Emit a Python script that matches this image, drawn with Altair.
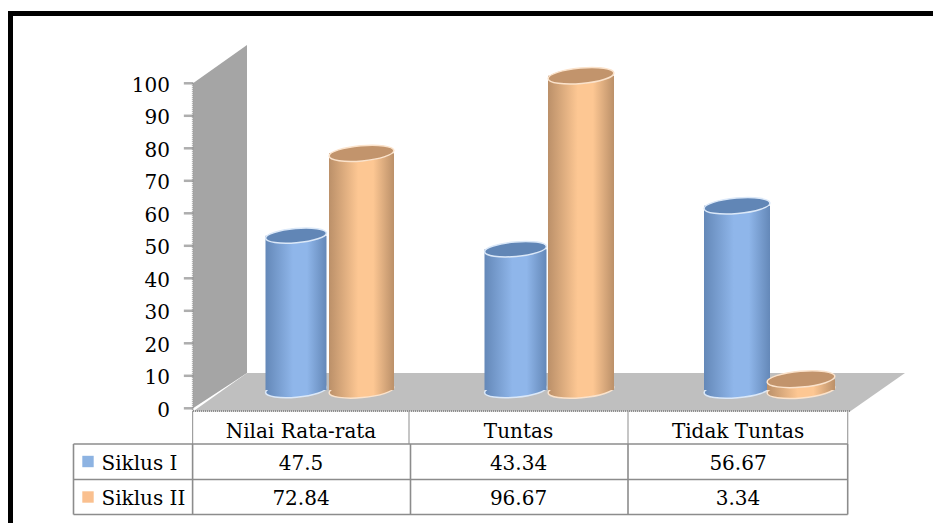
import altair as alt
import pandas as pd

# ---- data ----
categories = ["Nilai Rata-rata", "Tuntas", "Tidak Tuntas"]
series_names = ["Siklus I", "Siklus II"]
siklus_1 = [47.5, 43.34, 56.67]
siklus_2 = [72.84, 96.67, 3.34]
y_ticks = [0, 10, 20, 30, 40, 50, 60, 70, 80, 90, 100]

# ---- layout (page pixels -> scale units) ----
W, H = 925, 515
FONT = "DejaVu Serif"
FS = 20


def X(px):
    return (px - 192.6) / 218.4


def V(py):
    return (408.3 - py) / 3.25


x_scale = alt.Scale(domain=[X(8), X(8 + W)], nice=False, zero=False)
y_scale = alt.Scale(domain=[V(8 + H), V(8)], nice=False, zero=False)


def ex(f="x", **k):
    return alt.X(f"{f}:Q", scale=x_scale, axis=None, **k)


def ey(f="y", **k):
    return alt.Y(f"{f}:Q", scale=y_scale, axis=None, **k)


def frame(**cols):
    return pd.DataFrame(cols)


layers = []

# black frame
bands = frame(x=[X(8), X(8)], x2=[X(13), X(8 + W)], y=[V(11), V(11)], y2=[V(8 + H), V(16)])
layers.append(
    alt.Chart(bands).mark_rect(fill="#000000").encode(
        x=ex(), x2="x2:Q", y=ey(), y2="y2:Q"
    )
)

# side wall
wall = frame(x=[X(193), X(247)], y=[V(408.3), V(373)], y2=[V(83.3), V(45)])
layers.append(
    alt.Chart(wall).mark_area(fill="#a5a5a5", interpolate="linear").encode(
        x=ex(), y=ey(), y2="y2:Q"
    )
)

# floor
floor = frame(y=[V(411.5), V(373)], x=[X(193), X(247)], x2=[X(850), X(905)])
layers.append(
    alt.Chart(floor).mark_area(fill="#bfbfbf", orient="horizontal", interpolate="linear").encode(
        y=ey(), x=ex(), x2="x2:Q"
    )
)

# dotted edges of floor and wall
edge_h = frame(x=[X(193)], x2=[X(850)], y=[V(411)])
layers.append(
    alt.Chart(edge_h).mark_rule(stroke="#8f8f8f", strokeWidth=2, strokeDash=[1, 1]).encode(
        x=ex(), x2="x2:Q", y=ey()
    )
)
edge_v = frame(x=[X(192.6)], y=[V(83.3)], y2=[V(411)])
layers.append(
    alt.Chart(edge_v).mark_rule(stroke="#9a9a9a", strokeWidth=1.5, strokeDash=[1, 1]).encode(
        x=ex(), y=ey(), y2="y2:Q"
    )
)

# value axis: ticks and labels on the shared scales
axis_df = frame(
    y=[float(t) for t in y_ticks],
    x=[X(192.6)] * len(y_ticks),
    lx=[X(170)] * len(y_ticks),
    label=[str(t) for t in y_ticks],
)
layers.append(
    alt.Chart(axis_df).mark_tick(
        stroke="#8c8c8c", strokeWidth=1.5, size=8, orient="horizontal", xOffset=-4
    ).encode(x=ex(), y=ey())
)
layers.append(
    alt.Chart(axis_df).mark_text(
        font=FONT, fontSize=FS, align="right", baseline="middle", dy=2.5, color="#000000"
    ).encode(x=ex("lx"), y=ey(), text="label:N")
)

# cylinders
BASE = V(390)
CENTERS = {
    "Siklus I": [296, 515.5, 737],
    "Siklus II": [361.5, 581, 801],
}
RX = {
    "Siklus I": [30.5, 31, 33],
    "Siklus II": [32.5, 33, 34],
}
STYLE = {
    "Siklus I": dict(edge="#6488b8", mid="#8fb6ea", top="#6186b6", rim="#dbe8f8"),
    "Siklus II": dict(edge="#bb9069", mid="#fdc793", top="#c2946c", rim="#fbe3cc"),
}
ELLIPSE = "M-1,0 A1,0.235 0 1 0 1,0 A1,0.235 0 1 0 -1,0 Z"

for name, values in zip(series_names, [siklus_1, siklus_2]):
    st = STYLE[name]
    grad = {
        "gradient": "linear", "x1": 0, "x2": 1, "y1": 0, "y2": 0,
        "stops": [
            {"offset": 0, "color": st["edge"]},
            {"offset": 0.45, "color": st["mid"]},
            {"offset": 0.68, "color": st["mid"]},
            {"offset": 1, "color": st["edge"]},
        ],
    }
    d = frame(
        cx=[X(c) for c in CENTERS[name]],
        x=[X(c - r) for c, r in zip(CENTERS[name], RX[name])],
        x2=[X(c + r) for c, r in zip(CENTERS[name], RX[name])],
        base=[BASE] * 3,
        top=[BASE + v for v in values],
        s=[(2 * r) ** 2 for r in RX[name]],
    )
    layers.append(
        alt.Chart(d).mark_point(
            shape=ELLIPSE, filled=True, fill=grad, fillOpacity=1,
            stroke=st["rim"], strokeWidth=1.5, strokeOpacity=1, angle=355,
        ).encode(x=ex("cx"), y=ey("base"), size=alt.Size("s:Q", scale=None, legend=None))
    )
    layers.append(
        alt.Chart(d).mark_rect(fill=grad).encode(
            x=ex(), x2="x2:Q", y=ey("base"), y2="top:Q"
        )
    )
    layers.append(
        alt.Chart(d).mark_point(
            shape=ELLIPSE, filled=True, fill=st["top"], fillOpacity=1,
            stroke=st["rim"], strokeWidth=1.5, strokeOpacity=1, angle=355,
        ).encode(x=ex("cx"), y=ey("top"), size=alt.Size("s:Q", scale=None, legend=None))
    )

# data table: lines
GRID = "#8c8c8c"
thin = frame(x=[X(192.6), X(409), X(628), X(847.7)], y=[V(411)] * 4, y2=[V(444)] * 4)
layers.append(
    alt.Chart(thin).mark_rule(stroke="#a0a0a0", strokeWidth=1.2).encode(
        x=ex(), y=ey(), y2="y2:Q"
    )
)
vert = frame(
    x=[X(73.5), X(192.6), X(410.5), X(628), X(847.7)],
    y=[V(444)] * 5, y2=[V(514.5)] * 5,
)
layers.append(
    alt.Chart(vert).mark_rule(stroke=GRID, strokeWidth=1.6).encode(
        x=ex(), y=ey(), y2="y2:Q"
    )
)
horiz = frame(
    x=[X(73.5)] * 3, x2=[X(847.7)] * 3,
    y=[V(444), V(479.5), V(514.5)],
)
layers.append(
    alt.Chart(horiz).mark_rule(stroke=GRID, strokeWidth=1.6).encode(
        x=ex(), x2="x2:Q", y=ey()
    )
)

# data table: text
COL_X = [301, 518.5, 738]
texts = []
for c, cat in zip(COL_X, categories):
    texts.append((X(c), V(432), cat))
for row_y, vals in zip([464, 498.5], [siklus_1, siklus_2]):
    for c, v in zip(COL_X, vals):
        texts.append((X(c), V(row_y), str(v)))
tdf = pd.DataFrame(texts, columns=["x", "y", "label"])
layers.append(
    alt.Chart(tdf).mark_text(
        font=FONT, fontSize=FS, align="center", baseline="middle", color="#000000"
    ).encode(x=ex(), y=ey(), text="label:N")
)

# legend keys in the table
keys = frame(
    x=[X(88)] * 2, y=[V(461.5), V(497)], series=series_names,
    tx=[X(101.5)] * 2, ty=[V(464), V(498.5)],
)
layers.append(
    alt.Chart(keys).mark_square(size=130, opacity=1).encode(
        x=ex(), y=ey(),
        fill=alt.Fill(
            "series:N",
            scale=alt.Scale(domain=series_names, range=["#8db3e2", "#fac08f"]),
            legend=None,
        ),
    )
)
layers.append(
    alt.Chart(keys).mark_text(
        font=FONT, fontSize=FS, align="left", baseline="middle", color="#000000"
    ).encode(x=ex("tx"), y=ey("ty"), text="series:N")
)

chart = (
    alt.layer(*layers)
    .properties(
        width=W, height=H, padding=0,
        autosize=alt.AutoSizeParams(type="none"),
        background="#ffffff",
    )
    .configure_view(stroke=None)
)

chart.save("out.html", embed_options={"renderer": "svg", "actions": False})
